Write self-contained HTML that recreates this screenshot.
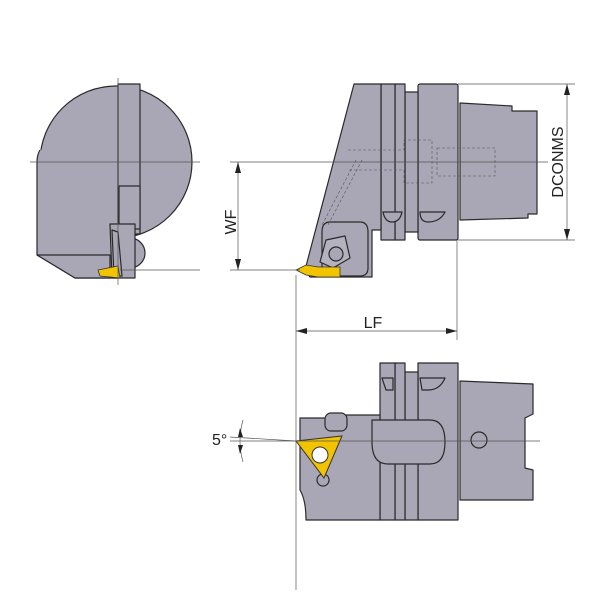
<!DOCTYPE html>
<html><head><style>html,body{margin:0;padding:0;background:#fff}svg{display:block}</style></head>
<body>
<svg width="600" height="600" viewBox="0 0 600 600" xmlns="http://www.w3.org/2000/svg" font-family="Liberation Sans, sans-serif">
<g fill="#a9a6b5" stroke="#2a2a2a" stroke-width="1.2" stroke-linejoin="round">
<!-- left view -->
<circle cx="116" cy="162" r="76"/>
<path d="M40 150 L37 160 L37 255 L75 278 L118 278 L118 150 Z" stroke="none"/>
<path d="M40 150 Q37 155 37 162 L37 255 L75 278 L118 278"/>
<rect x="118" y="84" width="22" height="150"/>
<rect x="119" y="186" width="21" height="43"/>
<circle cx="130" cy="253" r="15"/>
<path d="M110 224 L135 224 L135 278 L112 278 Z"/>
<path d="M112 230 L118 232 L122 276 L114 276 Z"/>
<path d="M37 255 L110 255 L110 278 L75 278 Z"/>
<!-- top right view -->
<path d="M460 103 L512 106 L512 111 L537 111 L537 214 L528 214 L528 218 L460 220 Z"/>
<rect x="418" y="84" width="40" height="156" rx="2"/>
<rect x="405" y="92" width="13" height="140"/>
<rect x="395" y="84" width="10" height="156"/>
<rect x="381" y="84" width="14" height="156"/>
<path d="M354 84 L381 84 L381 230 L372 230 L372 277 L310 277 L305 270 Z"/>
<path d="M330 222 L360 222 Q368 222 368 232 L368 268 Q368 276 360 276 L330 276 Q322 276 322 268 L322 232 Q322 222 330 222 Z"/>
<polygon points="326,240 345,236 350,258 333,268 320,262" fill="#b5b2c0"/>
<circle cx="336" cy="254" r="7"/>
<path d="M383 212 L402 212 Q400 222 392 222 Q385 222 383 212 Z"/>
<path d="M420 212 L445 212 Q440 222 428 222 Q420 222 420 212 Z"/>
</g>
<polygon points="296,270 306,265 318,267 340,267 340,277 318,277 306,275" fill="#f2c400" stroke="#333" stroke-width="0.8"/>
<polygon points="98,270 118,266 120,278 100,276" fill="#f2c400" stroke="#333" stroke-width="0.8"/>
<!-- dashed hidden lines -->
<g fill="none" stroke="#555" stroke-width="0.6" stroke-dasharray="3,2">
<path d="M348 150 L404 150 L404 140 L432 140 L432 183 L404 183 L404 170 L348 170"/>
<rect x="437" y="148" width="58" height="28"/>
<path d="M356 160 L322 225 M362 160 L328 225"/>
</g>
<!-- bottom view -->
<g fill="#a9a6b5" stroke="#2a2a2a" stroke-width="1.2" stroke-linejoin="round">
<path d="M460 381 L533 384 L533 414 L525 418 L525 468 L533 470 L533 500 L460 500 Z"/>
<rect x="418" y="363" width="40" height="157"/>
<rect x="405" y="372" width="13" height="148"/>
<rect x="395" y="363" width="10" height="157"/>
<rect x="380" y="363" width="15" height="157"/>
<path d="M300 418 L330 418 L332 415 L380 415 L380 520 L306 520 Q306 500 300 490 Z"/>
<rect x="325" y="413" width="22" height="18" rx="6"/>
<path d="M372 420 L430 420 Q445 420 445 442 Q445 464 430 464 L388 464 Q372 464 372 442 Z"/>
<circle cx="479" cy="440" r="8"/>
<circle cx="323" cy="480" r="6"/>
<path d="M382 378 L393 378 L393 390 L386 390 Z M420 378 L445 378 Q440 390 428 390 L422 390 Z"/>
</g>
<polygon points="296,441 342,436 324,478" fill="#f2c400" stroke="#333" stroke-width="1"/>
<circle cx="320" cy="455" r="8" fill="#fff" stroke="#333"/>
<!-- centre/dim lines -->
<g stroke="#555" stroke-width="0.7" fill="none">
<line x1="30" y1="162" x2="200" y2="162"/>
<line x1="118" y1="78" x2="118" y2="285"/>
<line x1="230" y1="162" x2="548" y2="162"/>
<line x1="230" y1="270" x2="300" y2="270"/>
<line x1="120" y1="270" x2="200" y2="270"/>
<line x1="296" y1="275" x2="296" y2="590"/>
<line x1="457" y1="240" x2="457" y2="340"/>
<line x1="458" y1="84" x2="575" y2="84"/>
<line x1="458" y1="240" x2="575" y2="240"/>
<line x1="238" y1="162" x2="238" y2="270"/>
<line x1="296" y1="331" x2="457" y2="331"/>
<line x1="567" y1="84" x2="567" y2="240"/>
<line x1="230" y1="437" x2="296" y2="441"/>
<line x1="230" y1="441" x2="540" y2="441"/>
<path d="M243 420 Q237 441 243 462"/>
</g>
<g fill="#222">
<polygon points="238,162 235,173 241,173"/><polygon points="238,270 235,259 241,259"/>
<polygon points="296,331 307,328 307,334"/><polygon points="457,331 446,328 446,334"/>
<polygon points="567,84 564,95 570,95"/><polygon points="567,240 564,229 570,229"/>
<polygon points="240,428 238,437 243,437"/><polygon points="240,454 238,445 243,445"/>
</g>
<g font-size="16" fill="#222">
<text x="236" y="222" transform="rotate(-90 236 222)" text-anchor="middle">WF</text>
<text x="373" y="328" text-anchor="middle">LF</text>
<text x="563" y="162" transform="rotate(-90 563 162)" text-anchor="middle">DCONMS</text>
<text x="212" y="445">5°</text>
</g>
</svg>
</body></html>
